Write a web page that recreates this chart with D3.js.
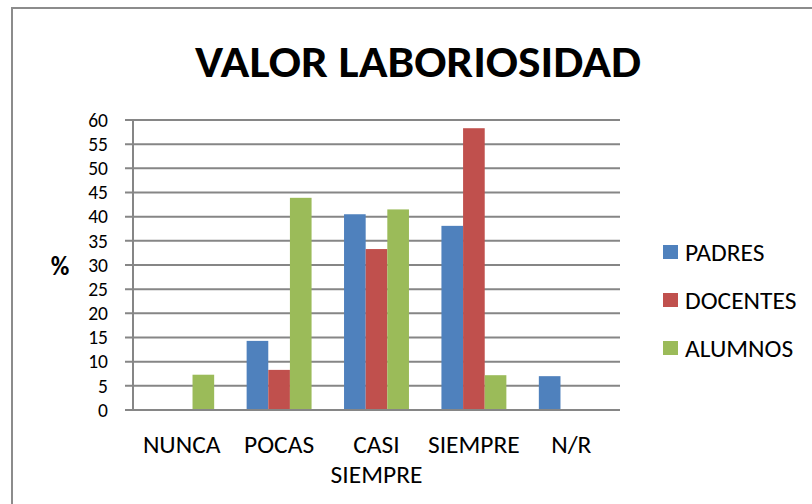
<!DOCTYPE html>
<html><head><meta charset="utf-8">
<script src="https://cdn.jsdelivr.net/npm/d3@7"></script>
<style>body{margin:0;background:#fff}svg{display:block}</style>
</head><body>
<svg id="c" width="812" height="504"></svg>
<script>
const title = "VALOR LABORIOSIDAD";
const categories = ["NUNCA", "POCAS", "CASI SIEMPRE", "SIEMPRE", "N/R"];
const seriesNames = ["PADRES", "DOCENTES", "ALUMNOS"];
const padres   = [0, 14.3, 40.5, 38.1, 7.0];
const docentes = [0, 8.3, 33.3, 58.3, 0];
const alumnos  = [7.3, 43.9, 41.5, 7.2, 0];
const yTicks = [0,5,10,15,20,25,30,35,40,45,50,55,60];
const colors = ["#4F81BD", "#C0504D", "#9BBB59"];
const seriesValues = [padres, docentes, alumnos];

const svg = d3.select("#c");
const font = "Calibri, Carlito, 'Open Sans', sans-serif";
const fs = 25.5;
const tickFs = 19.5;

// frame
svg.append("rect").attr("x", 12).attr("y", 8).attr("width", 900).attr("height", 600)
  .attr("fill", "none").attr("stroke", "#8c8c8c").attr("stroke-width", 2);

const L = 133, R = 620, T = 120, B = 410;
const x0 = d3.scaleBand().domain(categories).range([L, R]).paddingInner(0).paddingOuter(0);
const x1 = d3.scaleBand().domain(seriesNames).range([0, x0.bandwidth()]).paddingInner(0).paddingOuter(0.75);
const y = d3.scaleLinear().domain([0, 60]).range([B, T]);

// gridlines
svg.append("g").selectAll("line").data(yTicks).join("line")
  .attr("x1", L - 8).attr("x2", R).attr("y1", d => y(d)).attr("y2", d => y(d))
  .attr("stroke", "#868686").attr("stroke-width", 2);

// y axis labels
svg.append("g").selectAll("text").data(yTicks).join("text")
  .attr("x", 108).attr("y", d => y(d)).attr("dy", "0.35em")
  .attr("text-anchor", "end").attr("font-family", font).attr("font-size", tickFs)
  .attr("fill", "#000").text(d => d);

// bars
const g = svg.append("g");
categories.forEach((c, ci) => {
  seriesNames.forEach((s, si) => {
    const v = seriesValues[si][ci];
    if (v <= 0) return;
    g.append("rect")
      .attr("x", x0(c) + x1(s)).attr("width", x1.bandwidth())
      .attr("y", y(v)).attr("height", y(0) - y(v))
      .attr("fill", colors[si]);
  });
});

// y axis line
svg.append("line").attr("x1", L).attr("x2", L).attr("y1", T).attr("y2", B)
  .attr("stroke", "#868686").attr("stroke-width", 2);
// x axis baseline
svg.append("line").attr("x1", L - 8).attr("x2", R).attr("y1", B).attr("y2", B)
  .attr("stroke", "#868686").attr("stroke-width", 2);

// x labels
categories.forEach(c => {
  const words = c === "CASI SIEMPRE" ? ["CASI", "SIEMPRE"] : [c];
  words.forEach((w, i) => {
    svg.append("text").attr("x", x0(c) + x0.bandwidth() / 2).attr("y", 453 + i * 30)
      .attr("text-anchor", "middle").attr("font-family", font).attr("font-size", fs)
      .attr("fill", "#000").text(w);
  });
});

// % label
svg.append("text").attr("x", 60).attr("y", 266).attr("dy", "0.35em")
  .attr("text-anchor", "middle").attr("font-family", font).attr("font-size", fs)
  .attr("font-weight", "bold").text("%");

// title
svg.append("text").attr("x", 418).attr("y", 77).attr("text-anchor", "middle")
  .attr("font-family", font).attr("font-size", 44).attr("font-weight", "bold")
  .attr("textLength", 446).attr("lengthAdjust", "spacingAndGlyphs").text(title);

// legend
seriesNames.forEach((s, i) => {
  const cy = 252 + i * 48;
  svg.append("rect").attr("x", 663).attr("y", cy - 7).attr("width", 15).attr("height", 14)
    .attr("fill", colors[i]);
  svg.append("text").attr("x", 685).attr("y", cy).attr("dy", "0.35em")
    .attr("font-family", font).attr("font-size", fs).attr("fill", "#000").text(s);
});
</script>
</body></html>
